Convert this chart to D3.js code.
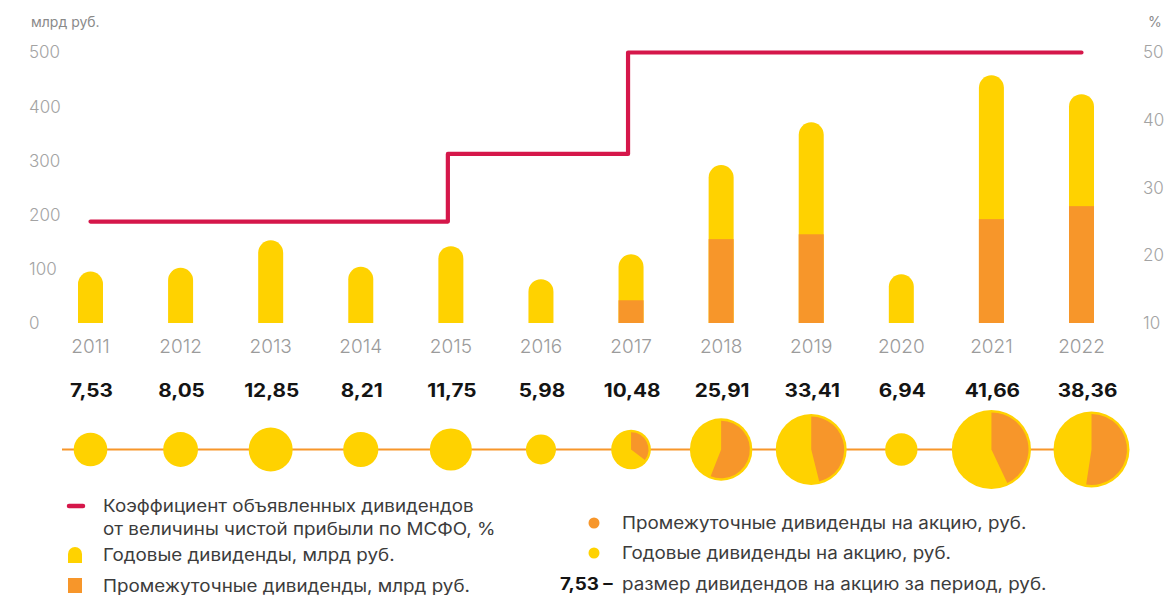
<!DOCTYPE html>
<html>
<head>
<meta charset="utf-8">
<script src="https://cdn.jsdelivr.net/npm/d3@7"></script>
<style>
  body { margin: 0; background: #fff; }
  svg { font-family: Inter, "Noto Sans", sans-serif; }
</style>
</head>
<body>
<div id="chart"></div>
<script>
// data
let years = ['2011', '2012', '2013', '2014', '2015', '2016', '2017', '2018', '2019', '2020', '2021', '2022'];
let totalBn = [95, 102, 153, 104, 142, 81, 127, 292, 371, 90, 458, 423];
let interimBn = [0, 0, 0, 0, 0, 0, 42, 155, 164, 0, 192, 216];
let payout = [25, 25, 25, 25, 35, 35, 50, 50, 50, 50, 50, 50];
let perShare = [7.53, 8.05, 12.85, 8.21, 11.75, 5.98, 10.48, 25.91, 33.41, 6.94, 41.66, 38.36];
let interimPerShare = [0, 0, 0, 0, 0, 0, 3.7, 14.5, 15.4, 0, 17.9, 20.1];
let leftTicks = [0, 100, 200, 300, 400, 500];
let rightTicks = [10, 20, 30, 40, 50];

let width = 1172, height = 595;
let yellow = '#FFD200', orange = '#F7962A', red = '#D5174A', grey = '#9b9b9b';
let barW = 25;
let stretch = 1.12; // the source font is wider than Inter

let svg = d3.select('#chart').append('svg')
    .attr('width', width)
    .attr('height', height);

let x = d3.scalePoint().domain(years).range([90.5, 1081.5]);
let y = d3.scaleLinear().domain([0, 500]).range([323, 52.5]);
let y2 = d3.scaleLinear().domain([10, 50]).range([323, 52.5]);
let rScale = d3.scaleSqrt().domain([0, 41.66]).range([0, 39.6]);

// axes labels
let leftAxis = svg.append('g')
    .attr('transform', 'translate(29,0)')
    .call(d3.axisLeft(y).tickValues(leftTicks).tickSize(0).tickPadding(0));
let rightAxis = svg.append('g')
    .attr('transform', 'translate(1143,0)')
    .call(d3.axisRight(y2).tickValues(rightTicks).tickSize(0).tickPadding(0));
[leftAxis, rightAxis].forEach((a) => {
    a.select('.domain').remove();
    a.selectAll('text')
        .attr('text-anchor', 'start')
        .attr('x', 0)
        .style('font-family', 'Inter, sans-serif')
        .style('font-size', '17px')
        .style('font-weight', 300)
        .attr('fill', '#a3a3a3');
});

svg.append('text').attr('x', 31).attr('y', 27)
    .text('млрд руб.')
    .style('font-size', '14px').attr('fill', '#8a8a8a');
svg.append('text').attr('x', 1148).attr('y', 27)
    .text('%')
    .style('font-size', '14px').attr('fill', '#8a8a8a');

// bars
let roundedBar = (cx, top, bottom) => {
    let r = barW / 2;
    let l = cx - r;
    return 'M' + l + ',' + bottom +
        'L' + l + ',' + (top + r) +
        'A' + r + ',' + r + ' 0 0 1 ' + (l + barW) + ',' + (top + r) +
        'L' + (l + barW) + ',' + bottom + 'Z';
};

let bars = svg.selectAll('g.bar')
    .data(years)
    .enter()
    .append('g')
    .attr('class', 'bar');

bars.append('path')
    .attr('d', (d, i) => roundedBar(x(d), y(totalBn[i]), y(0)))
    .attr('fill', yellow);

bars.filter((d, i) => interimBn[i] > 0)
    .append('rect')
    .attr('x', (d) => x(d) - barW / 2)
    .attr('y', (d) => y(interimBn[years.indexOf(d)]))
    .attr('width', barW)
    .attr('height', (d) => y(0) - y(interimBn[years.indexOf(d)]))
    .attr('fill', orange);

// payout line
svg.append('path')
    .datum(payout)
    .attr('d', d3.line()
        .x((d, i) => x(years[i]) - (i === 0 || i === payout.length - 1 ? 0 : 3))
        .y((d) => y2(d))
        .curve(d3.curveStepAfter))
    .attr('fill', 'none')
    .attr('stroke', red)
    .attr('stroke-width', 4.2)
    .attr('stroke-linecap', 'round')
    .attr('stroke-linejoin', 'round');

// year labels
svg.selectAll('text.year')
    .data(years)
    .enter()
    .append('text')
    .attr('class', 'year')
    .attr('x', (d) => x(d))
    .attr('y', 346)
    .attr('dy', '0.35em')
    .attr('text-anchor', 'middle')
    .text((d) => d)
    .style('font-size', '19px')
    .style('font-weight', 300)
    .attr('fill', grey);

// per share values
svg.selectAll('text.val')
    .data(years)
    .enter()
    .append('text')
    .attr('class', 'val')
    .attr('transform', (d, i) => 'translate(' + (x(d) + 1 + (i === years.length - 1 ? 5 : 0)) + ',391) scale(' + stretch + ',1)')
    .attr('dy', '0.35em')
    .attr('text-anchor', 'middle')
    .text((d, i) => perShare[i].toFixed(2).replace('.', ','))
    .style('font-size', '18.5px')
    .style('font-weight', 700)
    .attr('fill', '#141414');

// pie row
let pieY = 449.5;
let lastNudge = 10; // last pie sits a bit to the right in the source
let pieX = (d, i) => x(d) + (i === years.length - 1 ? lastNudge : 0);

svg.append('line')
    .attr('x1', 62).attr('x2', pieX(years[years.length - 1], years.length - 1))
    .attr('y1', pieY).attr('y2', pieY)
    .attr('stroke', orange)
    .attr('stroke-width', 2);

let pies = svg.selectAll('g.pie')
    .data(years)
    .enter()
    .append('g')
    .attr('class', 'pie')
    .attr('transform', (d, i) => 'translate(' + pieX(d, i) + ',' + pieY + ')');

pies.append('circle')
    .attr('r', (d, i) => rScale(perShare[i]))
    .attr('fill', yellow);

pies.filter((d, i) => interimPerShare[i] > 0)
    .append('path')
    .attr('d', (d) => {
        let i = years.indexOf(d);
        return d3.arc()
            .innerRadius(0)
            .outerRadius(rScale(perShare[i]) - 2.5)
            .startAngle(0)
            .endAngle(2 * Math.PI * interimPerShare[i] / perShare[i])();
    })
    .attr('fill', orange);

// legend
let legend = svg.append('g').style('font-size', '16.8px').attr('fill', '#3c3c3c');
let legendText = (tx, ty, txt) => legend.append('text')
    .attr('transform', 'translate(' + tx + ',' + ty + ') scale(' + stretch + ',1)')
    .attr('dy', '0.35em')
    .text(txt);

legend.append('line')
    .attr('x1', 69).attr('x2', 83).attr('y1', 506).attr('y2', 506)
    .attr('stroke', red).attr('stroke-width', 4.5).attr('stroke-linecap', 'round');
legendText(103, 506, 'Коэффициент объявленных дивидендов');
legendText(103, 529, 'от величины чистой прибыли по МСФО, %');

legend.append('path')
    .attr('d', 'M68,563L68,554A7,7 0 0 1 82,554L82,563Z')
    .attr('fill', yellow);
legendText(103, 555, 'Годовые дивиденды, млрд руб.');

legend.append('rect')
    .attr('x', 68).attr('y', 578).attr('width', 14).attr('height', 15)
    .attr('fill', orange);
legendText(103, 586, 'Промежуточные дивиденды, млрд руб.');

legend.append('circle').attr('cx', 594).attr('cy', 523).attr('r', 5.5).attr('fill', orange);
legendText(622, 523, 'Промежуточные дивиденды на акцию, руб.');

legend.append('circle').attr('cx', 594).attr('cy', 553).attr('r', 5.5).attr('fill', yellow);
legendText(622, 553, 'Годовые дивиденды на акцию, руб.');

legendText(560, 584, '7,53 –')
    .style('font-weight', 700).attr('fill', '#141414');
legendText(622, 584, 'размер дивидендов на акцию за период, руб.');
</script>
</body>
</html>
